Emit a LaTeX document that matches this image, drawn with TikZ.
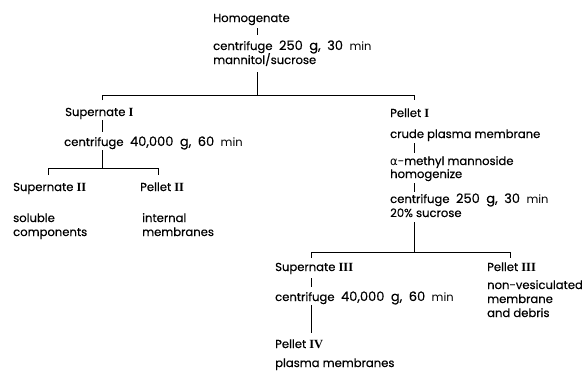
\documentclass[tikz,border=0pt]{standalone}
\usepackage{fontspec}
\setmainfont{Poppins}[FakeBold=0.4]
\newfontfamily\rnfont{Liberation Serif}
\newfontfamily\gkfont{DejaVu Sans}
\newfontfamily\mnfont{Poppins}
\newcommand{\rnum}[1]{{\rnfont\bfseries\fontsize{12.5}{13}\selectfont #1}}
\newcommand{\mn}{{\mnfont\fontsize{11.5}{12}\selectfont min}}
\newcommand{\nm}[1]{{\fontsize{13}{14}\selectfont #1}}
\newcommand{\wsp}{\hspace{6.5pt}}
\begin{document}
\begin{tikzpicture}[x=1pt,y=-1pt,
  lbl/.style={anchor=base west,inner sep=0pt,font=\fontsize{11.6}{13}\selectfont},
  conn/.style={line width=0.8pt}]
\useasboundingbox (0,0) rectangle (582,373);
% texts
\node[lbl] (hom) at (213,22) {Homogenate};
\node[lbl] (cA1) at (213,50) {centrifuge\wsp\nm{250\wsp g,\wsp 30}\wsp\mn};
\node[lbl] (cA2) at (213,64) {mannitol/sucrose};
\node[lbl] (sup1) at (65,116) {Supernate \rnum{I}};
\node[lbl] (cB) at (64,146) {centrifuge\wsp\nm{40,000\wsp g,\wsp 60}\wsp\mn};
\node[lbl] (sup2) at (13,191) {Supernate \rnum{II}};
\node[lbl] (pel2) at (140,191) {Pellet \rnum{II}};
\node[lbl] (sol1) at (13,222) {soluble};
\node[lbl] (sol2) at (13,236) {components};
\node[lbl] (int1) at (142,222) {internal};
\node[lbl] (int2) at (142,236) {membranes};
\node[lbl] (pel1) at (390,117) {Pellet \rnum{I}};
\node[lbl] (crude) at (390,138) {crude plasma membrane};
\node[lbl] (amm) at (390,165) {{\gkfont α}-methyl mannoside};
\node[lbl] (homz) at (390,178) {homogenize};
\node[lbl] (cC1) at (390,203) {centrifuge\wsp\nm{250\wsp g,\wsp 30}\wsp\mn};
\node[lbl] (cC2) at (390,217) {20\% sucrose};
\node[lbl] (sup3) at (275,271) {Supernate \rnum{III}};
\node[lbl] (cD) at (275,301) {centrifuge\wsp\nm{40,000\wsp g,\wsp 60}\wsp\mn};
\node[lbl] (pel4) at (275,348) {Pellet \rnum{IV}};
\node[lbl] (pm) at (275,367) {plasma membranes};
\node[lbl] (pel3) at (487,271) {Pellet \rnum{III}};
\node[lbl] (nv1) at (487,289) {non-vesiculated};
\node[lbl] (nv2) at (487,303) {membrane};
\node[lbl] (nv3) at (487,317) {and debris};
% junction coordinates
\coordinate (j1) at (257,95);
\coordinate (j1l) at (102,95);
\coordinate (j1r) at (414,95);
\coordinate (j2) at (102,168);
\coordinate (j2l) at (48,168);
\coordinate (j2r) at (158,168);
\coordinate (j3) at (414,252);
\coordinate (j3l) at (311,252);
\coordinate (j3r) at (510,252);
% connectors
\draw[conn] (257,28) coordinate (a1) -- (257,35) coordinate (a2);
\draw[conn] (257,72) coordinate (a3) -- (j1);
\draw[conn] (102,100) coordinate (a4) -- (j1l) -- (j1r) -- (414,100) coordinate (a5);
\draw[conn] (102,120) coordinate (b1) -- (102,132) coordinate (b2);
\draw[conn] (102,150) coordinate (b3) -- (j2);
\draw[conn] (48,175) coordinate (b4) -- (j2l) -- (j2r) -- (158,175) coordinate (b5);
\draw[conn] (414,143) coordinate (c1) -- (414,153) coordinate (c2);
\draw[conn] (414,183) coordinate (c3) -- (414,192) coordinate (c4);
\draw[conn] (414,222) coordinate (c5) -- (j3);
\draw[conn] (311,258) coordinate (d1) -- (j3l) -- (j3r) -- (510,258) coordinate (d2);
\draw[conn] (311,278) coordinate (d3) -- (311,287) coordinate (d4);
\draw[conn] (311,305) coordinate (d5) -- (311,333) coordinate (d6);
\end{tikzpicture}
\end{document}
